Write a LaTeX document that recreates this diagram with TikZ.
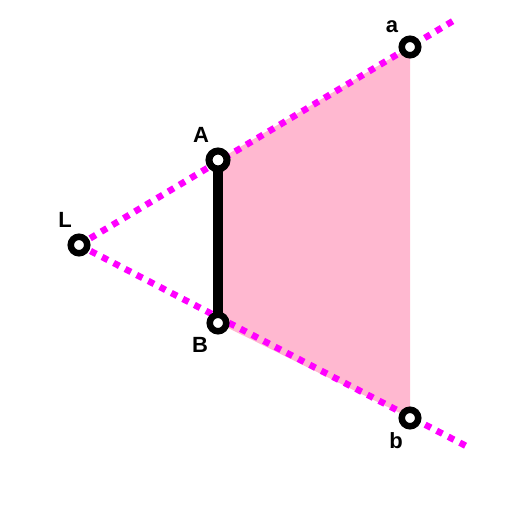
\documentclass[tikz,border=0pt]{standalone}
\usepackage{fontspec}
\setmainfont{Liberation Sans}
\definecolor{fillpink}{RGB}{255,184,208}
\definecolor{mag}{RGB}{255,0,255}
\begin{document}
\begin{tikzpicture}[x=1pt,y=-1pt,
  pt/.style={circle,draw=black,fill=white,line width=6.5pt,minimum size=16.5pt,inner sep=0pt},
  ray/.style={mag,line width=6.5pt,dash pattern=on 6.5pt off 6.5pt},
  lbl/.style={font=\bfseries\fontsize{22}{22}\selectfont,inner sep=0pt}]
\useasboundingbox (0,0) rectangle (512,512);
\coordinate (L) at (79,245);
\coordinate (A) at (218,160);
\coordinate (B) at (218,323);
\coordinate (a) at (410,47);
\coordinate (b) at (410,418);
\coordinate (ea) at (458,18);
\coordinate (eb) at (470,448);
\fill[fillpink] (A) -- (a) -- (b) -- (B) -- cycle;
\draw[ray] (L) -- (ea);
\draw[ray] (L) -- (eb);
\draw[line width=10pt] (A) -- (B);
\node[pt] (nL) at (L) {};
\node[pt,line width=7pt,minimum size=18pt] (nA) at (A) {};
\node[pt] (nB) at (B) {};
\node[pt] (na) at (a) {};
\node[pt] (nb) at (b) {};
\node[lbl] (tA) at (201,135) {A};
\node[lbl] (tB) at (200,345) {B};
\node[lbl] (tL) at (65,220) {L};
\node[lbl] (ta) at (392,27) {a};
\node[lbl] (tb) at (396,441) {b};
\end{tikzpicture}
\end{document}
